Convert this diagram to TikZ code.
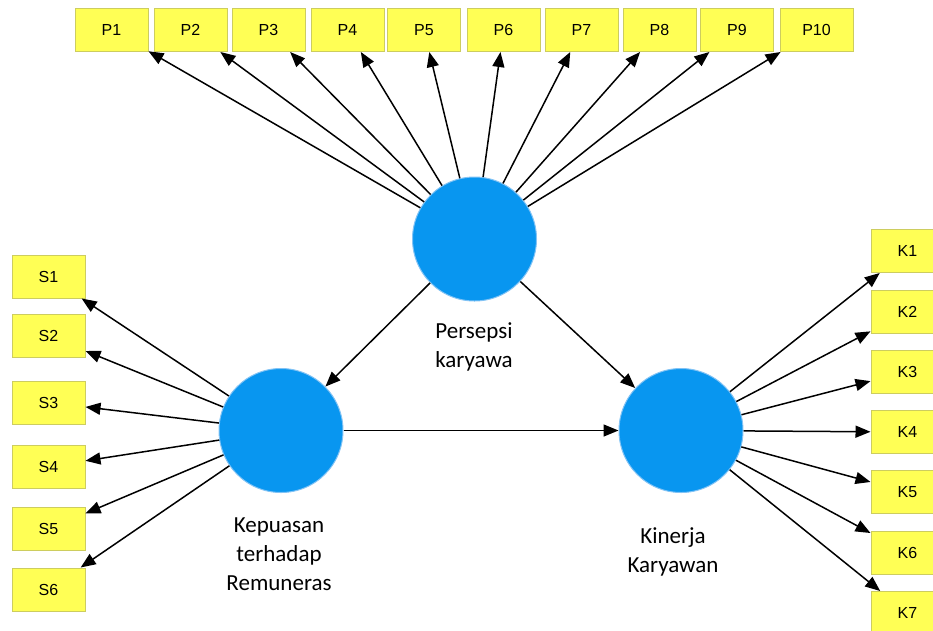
\documentclass[tikz,border=0pt]{standalone}
\usepackage{fontspec}
\setmainfont{Carlito}
\newfontfamily\boxfont{Liberation Sans}
\usepackage{tikz}
\usetikzlibrary{arrows.meta, positioning}
\definecolor{konstruk}{RGB}{8,150,240}
\definecolor{konstrukrim}{RGB}{130,195,245}
\definecolor{indikfill}{RGB}{255,255,85}
\definecolor{indikdraw}{RGB}{205,205,95}
\tikzstyle{indik} = [
  rectangle, draw=indikdraw, fill=indikfill, line width=1pt,
  text centered, minimum width=73pt, minimum height=43pt, inner sep=0pt,
  font=\boxfont\fontsize{16}{19}\selectfont
]
\tikzstyle{latent} = [
  circle, fill=konstruk, draw=konstrukrim, line width=1pt,
  minimum size=124pt, inner sep=0pt
]
\tikzstyle{label} = [align=center, font=\fontsize{23}{29}\selectfont]
\tikzstyle{arrow} = [-{Triangle[length=15pt, width=12pt]}, line width=1.5pt]

\begin{document}
\begin{tikzpicture}[x=1pt, y=-1pt]

  \useasboundingbox (0, 0) rectangle (933, 630);
  \clip (0, 0) rectangle (933, 630);

  \node[latent] (persepsi) at (474.5, 239) {};
  \node[latent] (kepuasan) at (281, 430.5) {};
  \node[latent] (kinerja) at (681, 430.5) {};

  \node[label] (persepsiLbl) at (474, 347) {Persepsi\\karyawa};
  \node[label] (kepuasanLbl) at (279, 554) {Kepuasan\\terhadap\\Remuneras};
  \node[label] (kinerjaLbl) at (673, 552) {Kinerja\\Karyawan};

  \foreach \i/\x in {1/111.5, 2/190.5, 3/268.5, 4/347.5, 5/424, 6/503.5, 7/581.5, 8/659.5, 9/737, 10/816.5}
    \node[indik] (p\i) at (\x, 30) {P\i};

  \foreach \i/\y in {1/276.5, 2/336, 3/402.5, 4/466.5, 5/529, 6/589.5}
    \node[indik] (s\i) at (48.5, \y) {S\i};

  \foreach \i/\y in {1/251, 2/312, 3/371.5, 4/432, 5/492, 6/553, 7/613}
    \node[indik] (k\i) at (907.5, \y) {K\i};

  \foreach \i in {1,...,10}
    \draw[arrow] (persepsi) -- (p\i);
  \foreach \i in {1,...,6}
    \draw[arrow] (kepuasan) -- (s\i);
  \foreach \i in {1,...,7}
    \draw[arrow] (kinerja) -- (k\i);

  \draw[arrow] (persepsi) -- (kepuasan);
  \draw[arrow] (persepsi) -- (kinerja);
  \draw[arrow] (kepuasan) -- (kinerja);

\end{tikzpicture}
\end{document}
